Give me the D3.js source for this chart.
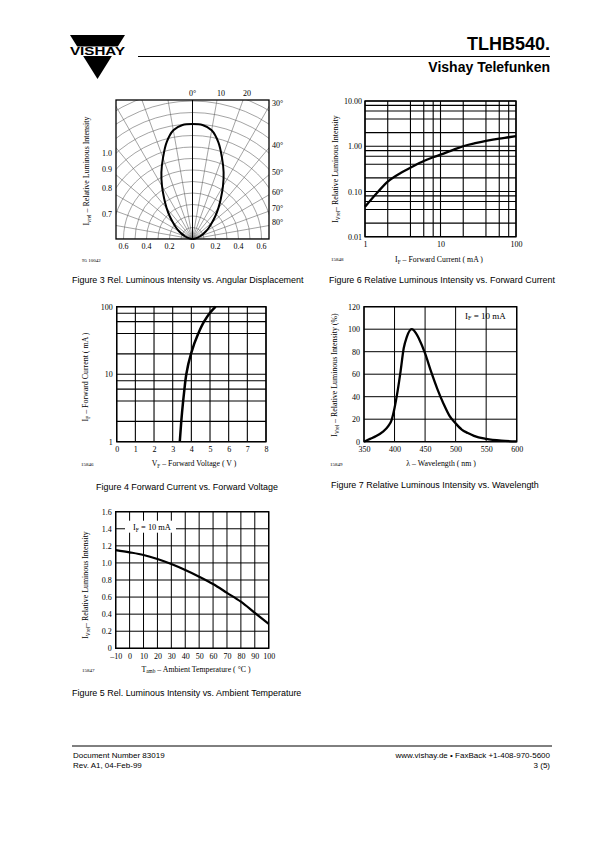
<!DOCTYPE html>
<html><head><meta charset="utf-8">
<script src="https://cdn.jsdelivr.net/npm/d3@7"></script>
<style>
body{margin:0;background:#fff}
svg{display:block}
text{fill:#000}
</style></head><body>
<svg id="page" width="595" height="842"></svg>
<script>
// ================= DATA =================
// Figure 3 – polar diagram
const polarAngles    = [0,5,10,15,20,25,30,35,40,45,50,55,60,65,70,75,80,85,90];
const polarIntensity = [1.0,0.995,0.96,0.87,0.75,0.64,0.53,0.43,0.35,0.28,0.22,0.175,0.135,0.10,0.07,0.045,0.025,0.01,0];
const polarGridAngles = [0,10,20,30,40,50,60,70,80,90];
const polarGridRadii  = [0.1,0.2,0.3,0.4,0.5,0.6,0.7,0.8,0.9,1.0,1.1,1.2,1.3];
const polarTopAngles  = [0,10,20];
const polarTopText    = ["0°","10","20"];
const polarRightAngles = [30,40,50,60,70,80];
const polarLeftValues  = [1.0,0.9,0.8,0.7];
const polarBottomValues = [-0.6,-0.4,-0.2,0,0.2,0.4,0.6];

// Figure 6 – rel. luminous intensity vs forward current (log-log)
const fig6Current   = [1,1.5,2,3,4,6,8,10,15,20,30,40,60,80,100];
const fig6Intensity = [0.046,0.10,0.165,0.26,0.335,0.47,0.57,0.65,0.84,1.0,1.18,1.31,1.48,1.58,1.67];
const fig6XGrid = [1,2,4,6,8,10,20,40,60,80,100];
const fig6YGrid = [0.01,0.02,0.04,0.06,0.08,0.1,0.2,0.4,0.6,0.8,1,2,4,6,8,10];
const fig6XTicks = [1,10,100];
const fig6YTicks = [0.01,0.1,1,10];

// Figure 4 – forward current vs forward voltage
const fig4Current = [1,2,4,6,8,10,20,40,60,80,100];
const fig4Voltage = [3.38,3.46,3.56,3.63,3.68,3.73,3.98,4.37,4.68,4.98,5.3];
const fig4XTicks = [0,1,2,3,4,5,6,7,8];
const fig4YGrid  = [1,2,4,6,8,10,20,40,60,80,100];
const fig4YTicks = [1,10,100];

// Figure 7 – relative intensity vs wavelength
const fig7Wavelength = [350,360,370,380,390,395,400,405,410,415,420,428,435,440,450,460,470,480,490,500,510,520,530,550,575,600];
const fig7Intensity  = [0,2.5,5,8.5,14,19,30,45,63,83,93,100,96.5,91.5,78.5,62,47,34,23,16.3,10.8,7.7,5.2,2.5,0.9,0.3];
const fig7XTicks = [350,400,450,500,550,600];
const fig7YTicks = [0,20,40,60,80,100,120];

// Figure 5 – rel. intensity vs ambient temperature
const fig5Temp      = [-10,0,10,20,30,40,50,60,70,80,90,100];
const fig5Intensity = [1.15,1.124,1.093,1.046,0.987,0.917,0.839,0.753,0.65,0.546,0.415,0.285];
const fig5XTicks = [-10,0,10,20,30,40,50,60,70,80,90,100];
const fig5YTicks = [0,0.2,0.4,0.6,0.8,1.0,1.2,1.4,1.6];

// ================= DRAWING =================
const SERIF = "'Liberation Serif','Times New Roman',serif";
const SANS  = "'Liberation Sans',Arial,Helvetica,sans-serif";
const svg = d3.select("#page");

function richText(sel, parts, size) {
  parts.forEach(p => {
    const t = sel.append("tspan").text(p[0]);
    if (p[1] === "sub") t.attr("font-size", size*0.68).attr("dy", size*0.22);
    else if (p[1] === "back") t.attr("dy", -size*0.22);
  });
  return sel;
}
function label(g, x, y, parts, opts = {}) {
  const size = opts.size || 7.8;
  const t = g.append("text").attr("x", x).attr("y", y)
    .attr("font-family", opts.family || SERIF).attr("font-size", size)
    .attr("text-anchor", opts.anchor || "middle").attr("fill", "#000");
  if (opts.rotate) t.attr("transform", `rotate(-90,${x},${y})`);
  return richText(t, parts, size);
}
function caption(x, y, str, anchor) {
  svg.append("text").attr("x", x).attr("y", y).attr("font-family", SANS)
    .attr("font-size", 8.95).attr("text-anchor", anchor || "start").text(str);
}
function code(x, y, str) {
  svg.append("text").attr("x", x).attr("y", y).attr("font-family", SERIF)
    .attr("font-size", 5).text(str);
}
function styleAxis(g) {
  g.attr("font-family", SERIF).attr("font-size", 8);
  g.select(".domain").remove();
  g.selectAll(".tick line").remove();
  g.selectAll(".tick text").attr("fill", "#000");
}
function gridAndBox(g, x, y, xGrid, yGrid, sw) {
  const [x0, x1] = x.range(), [y0, y1] = y.range();
  g.append("g").selectAll("line").data(xGrid).join("line")
    .attr("x1", d => x(d)).attr("x2", d => x(d)).attr("y1", y0).attr("y2", y1)
    .attr("stroke", "#000").attr("stroke-width", sw);
  g.append("g").selectAll("line").data(yGrid).join("line")
    .attr("y1", d => y(d)).attr("y2", d => y(d)).attr("x1", x0).attr("x2", x1)
    .attr("stroke", "#000").attr("stroke-width", sw);
  g.append("rect").attr("x", x0).attr("y", y1).attr("width", x1 - x0).attr("height", y0 - y1)
    .attr("fill", "none").attr("stroke", "#000").attr("stroke-width", 1.4);
}

// ---------- Header ----------
svg.append("polygon").attr("points", "70,35 125,35 97.5,79").attr("fill", "#000");
svg.append("rect").attr("x", 66).attr("y", 46.5).attr("width", 64).attr("height", 9.5).attr("fill", "#fff");
svg.append("text").attr("x", 97.5).attr("y", 55.4).attr("text-anchor", "middle")
  .attr("font-family", SANS).attr("font-weight", "bold").attr("font-size", 10.5)
  .attr("textLength", 55).attr("lengthAdjust", "spacingAndGlyphs").text("VISHAY");
svg.append("line").attr("x1", 138).attr("x2", 550).attr("y1", 56.5).attr("y2", 56.5)
  .attr("stroke", "#000").attr("stroke-width", 1);
svg.append("text").attr("x", 550).attr("y", 49.5).attr("text-anchor", "end")
  .attr("font-family", SANS).attr("font-weight", "bold").attr("font-size", 18).text("TLHB540.");
svg.append("text").attr("x", 550).attr("y", 71.5).attr("text-anchor", "end")
  .attr("font-family", SANS).attr("font-weight", "bold").attr("font-size", 14).text("Vishay Telefunken");

// ---------- Figure 3 (polar) ----------
{
  const L = 116, R = 269, T = 100, cx = 192.5, cy = 239;
  const r = d3.scaleLinear().domain([0, 1]).range([0, 115]);
  const g = svg.append("g");
  g.append("clipPath").attr("id", "pclip").append("rect")
    .attr("x", L).attr("y", T).attr("width", R - L).attr("height", cy - T);
  const grid = g.append("g").attr("clip-path", "url(#pclip)");
  grid.selectAll("circle").data(polarGridRadii).join("circle")
    .attr("cx", cx).attr("cy", cy).attr("r", d => r(d))
    .attr("fill", "none").attr("stroke", "#666").attr("stroke-width", 0.6);
  const rays = polarGridAngles.flatMap(a => [a, -a]);
  grid.selectAll("line.ray").data(rays).join("line").attr("class", "ray")
    .attr("x1", cx).attr("y1", cy)
    .attr("x2", d => cx + 300 * Math.sin(d * Math.PI / 180))
    .attr("y2", d => cy - 300 * Math.cos(d * Math.PI / 180))
    .attr("stroke", "#666").attr("stroke-width", 0.6);
  g.append("line").attr("x1", cx).attr("x2", cx).attr("y1", T).attr("y2", cy)
    .attr("stroke", "#000").attr("stroke-width", 1);
  // curve
  const pts = [];
  for (let i = polarAngles.length - 1; i > 0; i--) pts.push([-polarAngles[i], polarIntensity[i]]);
  for (let i = 0; i < polarAngles.length; i++) pts.push([polarAngles[i], polarIntensity[i]]);
  const lr = d3.lineRadial().angle(d => d[0] * Math.PI / 180).radius(d => r(d[1]))
    .curve(d3.curveCatmullRom);
  g.append("path").attr("transform", `translate(${cx},${cy})`).attr("d", lr(pts))
    .attr("fill", "none").attr("stroke", "#000").attr("stroke-width", 2);
  g.append("rect").attr("x", L).attr("y", T).attr("width", R - L).attr("height", cy - T)
    .attr("fill", "none").attr("stroke", "#000").attr("stroke-width", 1.3);
  // labels
  const lab = svg.append("g");
  polarTopAngles.forEach((a, i) => {
    const x = cx + (cy - T) * Math.tan(a * Math.PI / 180) + (a ? 4 : 0);
    label(lab, x, 96, [[polarTopText[i]]], { size: 8 });
  });
  polarRightAngles.forEach(a => {
    const y = cy - (R - cx) / Math.tan(a * Math.PI / 180) - 3;
    label(lab, R + 3, y + 2.8, [[a + "°"]], { size: 8, anchor: "start" });
  });
  polarLeftValues.forEach(v => {
    const y = cy - Math.sqrt(r(v) ** 2 - (cx - L) ** 2);
    label(lab, L - 4, y + 2.8, [[v.toFixed(1)]], { size: 8, anchor: "end" });
  });
  polarBottomValues.forEach(v => {
    const x = cx + Math.sign(v) * r(Math.abs(v));
    label(lab, x, 249, [[v === 0 ? "0" : Math.abs(v).toFixed(1)]], { size: 8 });
  });
  label(lab, 89, 171, [["I"], ["vrel", "sub"], [" – Relative Luminous Intensity", "back"]], { size: 7.9, rotate: true });
  code(82, 261.5, "95 10042");
  caption(72, 283, "Figure 3 Rel. Luminous Intensity vs. Angular Displacement");
}

// ---------- Figure 6 ----------
{
  const x = d3.scaleLog().domain([1, 100]).range([365, 516]);
  const y = d3.scaleLog().domain([0.01, 10]).range([236.7, 101]);
  const g = svg.append("g");
  gridAndBox(g, x, y, fig6XGrid, fig6YGrid, 1.1);
  const line = d3.line().x((d, i) => x(fig6Current[i])).y(d => y(d)).curve(d3.curveMonotoneX);
  g.append("path").attr("d", line(fig6Intensity)).attr("fill", "none")
    .attr("stroke", "#000").attr("stroke-width", 2.3);
  g.append("g").attr("transform", "translate(365,0)")
    .call(d3.axisLeft(y).tickValues(fig6YTicks).tickFormat(d3.format(".2f")).tickSize(0).tickPadding(3))
    .call(styleAxis);
  g.append("g").attr("transform", "translate(0,236.7)")
    .call(d3.axisBottom(x).tickValues(fig6XTicks).tickFormat(d3.format("d")).tickSize(0).tickPadding(5))
    .call(styleAxis);
  label(g, 439, 262, [["I"], ["F", "sub"], [" – Forward Current ( mA )", "back"]]);
  label(g, 338, 169, [["I"], ["Vrel", "sub"], ["– Relative Luminous Intensity", "back"]], { size: 7.9, rotate: true });
  code(331, 261, "15848");
  caption(329, 283, "Figure 6 Relative Luminous Intensity vs. Forward Current");
}

// ---------- Figure 4 ----------
{
  const x = d3.scaleLinear().domain([0, 8]).range([116.7, 266]);
  const y = d3.scaleLog().domain([1, 100]).range([441.7, 306.7]);
  const g = svg.append("g");
  gridAndBox(g, x, y, fig4XTicks, fig4YGrid, 1.1);
  const line = d3.line().x(d => x(d)).y((d, i) => y(fig4Current[i])).curve(d3.curveMonotoneY);
  g.append("path").attr("d", line(fig4Voltage)).attr("fill", "none")
    .attr("stroke", "#000").attr("stroke-width", 2.5);
  g.append("g").attr("transform", "translate(116.7,0)")
    .call(d3.axisLeft(y).tickValues(fig4YTicks).tickFormat(d3.format("d")).tickSize(0).tickPadding(4))
    .call(styleAxis);
  g.append("g").attr("transform", "translate(0,441.7)")
    .call(d3.axisBottom(x).tickValues(fig4XTicks).tickFormat(d3.format("d")).tickSize(0).tickPadding(5))
    .call(styleAxis);
  label(g, 194, 466, [["V"], ["F", "sub"], [" – Forward Voltage ( V )", "back"]]);
  label(g, 88, 377, [["I"], ["F", "sub"], [" – Forward Current ( mA )", "back"]], { size: 7.9, rotate: true });
  code(81, 466, "15846");
  caption(187, 489.5, "Figure 4 Forward Current vs. Forward Voltage", "middle");
}

// ---------- Figure 7 ----------
{
  const x = d3.scaleLinear().domain([350, 600]).range([364, 516.7]);
  const y = d3.scaleLinear().domain([0, 120]).range([441.7, 306.7]);
  const g = svg.append("g");
  gridAndBox(g, x, y, fig7XTicks, fig7YTicks, 1);
  const line = d3.line().x((d, i) => x(fig7Wavelength[i])).y(d => y(d)).curve(d3.curveMonotoneX);
  g.append("path").attr("d", line(fig7Intensity)).attr("fill", "none")
    .attr("stroke", "#000").attr("stroke-width", 2.3);
  g.append("g").attr("transform", "translate(364,0)")
    .call(d3.axisLeft(y).tickValues(fig7YTicks).tickFormat(d3.format("d")).tickSize(0).tickPadding(4))
    .call(styleAxis);
  g.append("g").attr("transform", "translate(0,441.7)")
    .call(d3.axisBottom(x).tickValues(fig7XTicks).tickFormat(d3.format("d")).tickSize(0).tickPadding(5))
    .call(styleAxis);
  label(g, 465, 318.5, [["I"], ["F", "sub"], [" = 10 mA", "back"]], { size: 9, anchor: "start" });
  label(g, 441, 466, [["λ – Wavelength ( nm )"]]);
  label(g, 337, 375, [["I"], ["Vrel", "sub"], [" – Relative Luminous Intensity (%)", "back"]], { size: 7.9, rotate: true });
  code(330, 466, "15849");
  caption(331, 487.5, "Figure 7 Relative Luminous Intensity vs. Wavelength");
}

// ---------- Figure 5 ----------
{
  const x = d3.scaleLinear().domain([-10, 100]).range([115.7, 268.7]);
  const y = d3.scaleLinear().domain([0, 1.6]).range([648.3, 511.7]);
  const g = svg.append("g");
  gridAndBox(g, x, y, fig5XTicks, fig5YTicks, 1);
  const line = d3.line().x((d, i) => x(fig5Temp[i])).y(d => y(d)).curve(d3.curveMonotoneX);
  g.append("path").attr("d", line(fig5Intensity)).attr("fill", "none")
    .attr("stroke", "#000").attr("stroke-width", 2.2);
  g.append("rect").attr("x", 125).attr("y", 520.7).attr("width", 51).attr("height", 12).attr("fill", "#fff");
  label(g, 133, 530, [["I"], ["F", "sub"], [" = 10 mA", "back"]], { size: 8.4, anchor: "start" });
  g.append("g").attr("transform", "translate(115.7,0)")
    .call(d3.axisLeft(y).tickValues(fig5YTicks).tickFormat(d => d === 0 ? "0" : d.toFixed(1)).tickSize(0).tickPadding(4))
    .call(styleAxis);
  g.append("g").attr("transform", "translate(0,648.3)")
    .call(d3.axisBottom(x).tickValues(fig5XTicks).tickFormat(d => d < 0 ? "–" + Math.abs(d) : String(d)).tickSize(0).tickPadding(5))
    .call(styleAxis);
  label(g, 196, 671.5, [["T"], ["amb", "sub"], [" – Ambient Temperature ( °C )", "back"]]);
  label(g, 88, 585, [["I"], ["Vrel", "sub"], ["– Relative Luminous Intensity", "back"]], { size: 7.9, rotate: true });
  code(82, 671.5, "15847");
  caption(72, 695.5, "Figure 5 Rel. Luminous Intensity vs. Ambient Temperature");
}

// ---------- Footer ----------
svg.append("line").attr("x1", 72).attr("x2", 552).attr("y1", 746).attr("y2", 746)
  .attr("stroke", "#000").attr("stroke-width", 1);
[["Document Number 83019", 73, 757.5, "start"], ["Rev. A1, 04-Feb-99", 73, 767.5, "start"],
 ["www.vishay.de • FaxBack +1-408-970-5600", 550, 757.5, "end"], ["3 (5)", 550, 767.5, "end"]]
  .forEach(([s, x, y, a]) => svg.append("text").attr("x", x).attr("y", y).attr("text-anchor", a)
    .attr("font-family", SANS).attr("font-size", 8).text(s));
</script>
</body></html>
